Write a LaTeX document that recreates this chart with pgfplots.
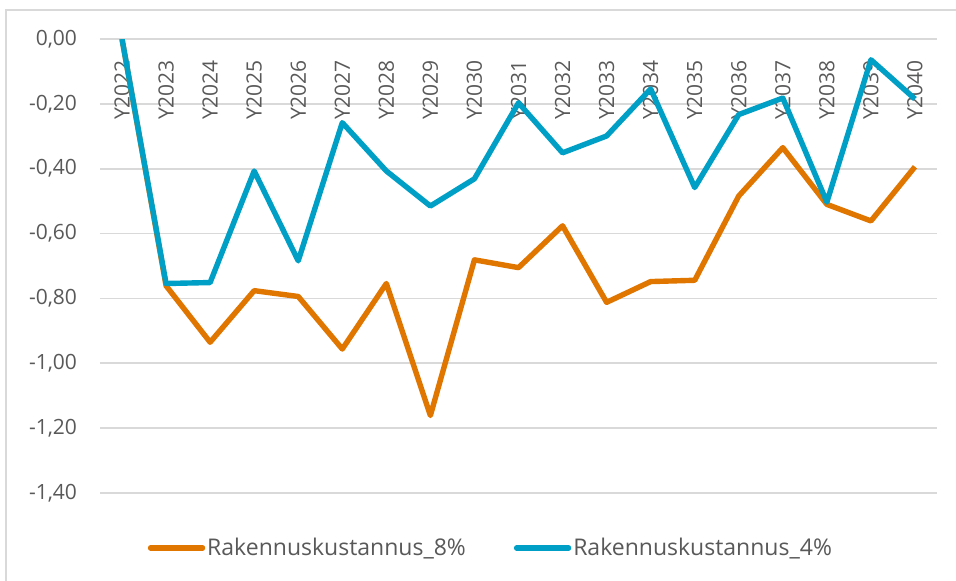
\documentclass[border=0pt]{standalone}
\usepackage{pgfplots}
\pgfplotsset{compat=1.18}
\usepackage{fontspec}
\setmainfont{Open Sans}
\definecolor{SerOrange}{RGB}{224,117,0}
\definecolor{SerBlue}  {RGB}{0,160,198}
\definecolor{GridGray} {RGB}{217,217,217}
\definecolor{LabelGray}{RGB}{89,89,89}

\begin{document}
\begin{tikzpicture}
% 1 px of the reference = 0.5pt
\useasboundingbox (-50pt,-43.5pt) rectangle (428pt,246.5pt);
\draw[GridGray, line width=0.8pt] (-47pt,-44pt) -- (-47pt,241.5pt) -- (429pt,241.5pt);
\begin{axis}[
    at={(0,0)}, anchor=south west,
    scale only axis,
    width=418.5pt,
    height=227pt,
    xmin=-0.5, xmax=18.5,
    ymin=-1.4, ymax=0,
    xtick={0,...,18},
    xticklabels={Y2022,Y2023,Y2024,Y2025,Y2026,Y2027,Y2028,Y2029,Y2030,Y2031,
                 Y2032,Y2033,Y2034,Y2035,Y2036,Y2037,Y2038,Y2039,Y2040},
    xticklabel pos=upper,
    xticklabel shift=-7pt,
    x tick label style={rotate=90, anchor=east, font=\fontsize{10.5}{12}\selectfont, text=LabelGray},
    ytick={-1.4,-1.2,-1,-0.8,-0.6,-0.4,-0.2,0},
    y tick label style={font=\fontsize{10.5}{12}\selectfont, text=LabelGray, xshift=-8pt,
        /pgf/number format/.cd, fixed, fixed zerofill, precision=2, use comma, assume math mode=true},
    ymajorgrids,
    major grid style={draw=GridGray, line width=0.8pt},
    axis line style={draw=none},
    tick style={draw=none},
    legend columns=2,
    legend style={
        at={(0.467,-0.121)}, anchor=center,
        draw=none, fill=none,
        font=\fontsize{11.5}{13}\selectfont,
        text=LabelGray,
        nodes={inner xsep=1pt},
        /tikz/every even column/.append style={column sep=23pt},
        inner sep=0pt,
    },
    legend image code/.code={\draw[#1, line width=2.7pt, line cap=round] (0pt,0pt) -- (26pt,0pt);},
    every axis plot/.append style={line width=2.7pt, line join=round},
]

\addplot[SerOrange] coordinates {
    (0,0.000) (1,-0.761) (2,-0.935) (3,-0.776) (4,-0.794) (5,-0.956)
    (6,-0.754) (7,-1.161) (8,-0.681) (9,-0.705) (10,-0.576) (11,-0.812)
    (12,-0.748) (13,-0.744) (14,-0.484) (15,-0.335) (16,-0.510) (17,-0.561)
    (18,-0.394)
};
\addlegendentry{Rakennuskustannus\_8\%}

\addplot[SerBlue] coordinates {
    (0,0.000) (1,-0.754) (2,-0.751) (3,-0.407) (4,-0.684) (5,-0.258)
    (6,-0.407) (7,-0.515) (8,-0.431) (9,-0.197) (10,-0.351) (11,-0.299)
    (12,-0.154) (13,-0.458) (14,-0.233) (15,-0.182) (16,-0.503) (17,-0.064)
    (18,-0.185)
};
\addlegendentry{Rakennuskustannus\_4\%}

\end{axis}
\end{tikzpicture}
\end{document}
